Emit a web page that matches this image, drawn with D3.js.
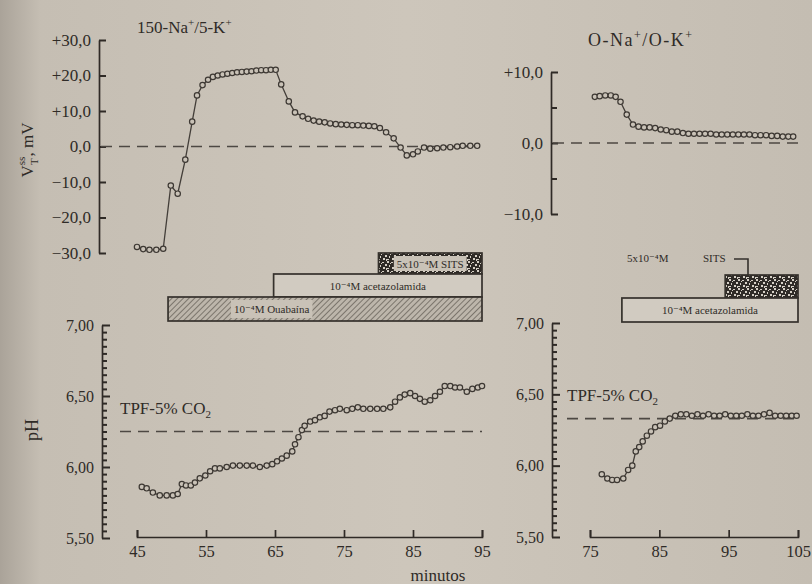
<!DOCTYPE html>
<html>
<head>
<meta charset="utf-8">
<script src="https://cdn.jsdelivr.net/npm/d3@7"></script>
<style>
  html, body { margin: 0; padding: 0; background: #cdc6bb; }
  svg { display: block; }
  text { font-family: "Liberation Serif", "DejaVu Serif", serif; fill: #2f2b27; }
</style>
</head>
<body>
<svg id="chart" width="812" height="584"></svg>
<script>
// ---- data ----
// top left: transepithelial voltage, 150-Na+/5-K+
var voltLeftTime = [45.0, 45.9, 46.8, 47.8, 48.8, 49.9, 50.9, 52.0, 53.0, 53.7, 54.5, 55.3, 56.0, 56.7,
  57.4, 58.1, 58.8, 59.5, 60.2, 60.9, 61.6, 62.3, 63.0, 63.7, 64.4, 65.1, 65.9, 67.0, 67.9, 69.0,
  69.8, 70.6, 71.4, 72.2, 73.0, 73.8, 74.6, 75.4, 76.2, 77.0, 77.8, 78.6, 79.4, 80.2, 81.1, 82.2,
  83.2, 84.1, 85.0, 85.7, 86.6, 87.5, 88.5, 89.4, 90.4, 91.4, 92.2, 93.3, 94.3];
var voltLeftValue = [-28.3, -28.9, -29.1, -29.1, -28.8, -11.0, -13.3, -3.7, 7.0, 14.4, 17.3, 18.8, 19.6, 20.0,
  20.3, 20.5, 20.7, 20.9, 21.0, 21.1, 21.2, 21.4, 21.5, 21.5, 21.6, 21.6, 17.5, 12.7, 9.6, 8.5,
  7.8, 7.3, 7.0, 6.8, 6.5, 6.3, 6.2, 6.1, 6.0, 6.0, 5.9, 5.8, 5.7, 5.2, 4.0, 2.3,
  -0.3, -2.5, -2.2, -1.4, -0.3, -0.6, -0.5, -0.3, -0.2, 0.0, 0.2, 0.2, 0.2];

// top right: transepithelial voltage, O-Na+/O-K+
var voltRightTime = [75.7, 76.4, 77.2, 78.0, 78.7, 79.4, 80.3, 81.2, 82.0, 82.8, 83.6, 84.4, 85.2, 86.0,
  86.8, 87.6, 88.4, 89.2, 90.0, 90.8, 91.6, 92.4, 93.2, 94.0, 94.8, 95.6, 96.4, 97.2, 98.0, 98.8,
  99.6, 100.4, 101.2, 102.0, 102.8, 103.6, 104.3];
var voltRightValue = [6.5, 6.6, 6.7, 6.7, 6.5, 5.8, 4.0, 2.6, 2.3, 2.2, 2.2, 2.1, 1.9, 1.8,
  1.6, 1.6, 1.4, 1.3, 1.3, 1.3, 1.3, 1.3, 1.2, 1.2, 1.2, 1.2, 1.2, 1.2, 1.2, 1.1,
  1.1, 1.1, 1.0, 1.0, 0.9, 0.9, 0.9];

// bottom left: pH
var phLeftTime = [45.7, 46.4, 47.3, 48.3, 49.3, 50.2, 50.9, 51.5, 52.1, 52.8, 53.4, 54.1, 54.9, 55.6,
  56.3, 57.0, 58.0, 58.9, 59.9, 60.9, 61.8, 62.8, 63.8, 64.6, 65.3, 66.0, 66.7, 67.5, 67.9, 68.4,
  68.9, 69.3, 70.1, 70.8, 71.5, 72.2, 72.9, 73.7, 74.4, 75.4, 76.2, 77.0, 77.8, 78.8, 79.8, 80.7,
  81.7, 82.4, 83.1, 83.8, 84.6, 85.3, 86.0, 86.7, 87.5, 88.2, 88.9, 89.6, 90.4, 91.1, 91.8, 92.8,
  93.6, 94.4, 95.0];
var phLeftValue = [5.86, 5.85, 5.82, 5.80, 5.80, 5.80, 5.81, 5.88, 5.87, 5.87, 5.89, 5.92, 5.94, 5.97,
  5.99, 5.99, 6.00, 6.01, 6.01, 6.01, 6.01, 6.00, 6.01, 6.02, 6.04, 6.06, 6.08, 6.11, 6.16, 6.21,
  6.26, 6.29, 6.32, 6.33, 6.35, 6.36, 6.39, 6.40, 6.41, 6.40, 6.41, 6.42, 6.41, 6.41, 6.41, 6.41,
  6.42, 6.46, 6.49, 6.51, 6.52, 6.50, 6.48, 6.46, 6.47, 6.50, 6.53, 6.57, 6.57, 6.56, 6.56, 6.53,
  6.55, 6.56, 6.57];

// bottom right: pH
var phRightTime = [76.7, 77.5, 78.2, 78.9, 79.8, 80.5, 81.1, 81.6, 82.1, 82.6, 83.2, 83.8, 84.4, 85.1,
  85.8, 86.5, 87.3, 88.1, 88.9, 89.7, 90.5, 91.3, 92.1, 92.9, 93.7, 94.5, 95.3, 96.1, 96.9, 97.7,
  98.5, 99.3, 100.1, 100.9, 101.7, 102.5, 103.3, 104.1, 104.8];
var phRightValue = [5.94, 5.91, 5.90, 5.90, 5.91, 5.97, 6.00, 6.10, 6.13, 6.17, 6.21, 6.24, 6.27, 6.28,
  6.31, 6.33, 6.35, 6.36, 6.36, 6.35, 6.36, 6.35, 6.36, 6.35, 6.35, 6.36, 6.35, 6.35, 6.35, 6.36,
  6.35, 6.35, 6.36, 6.37, 6.35, 6.35, 6.35, 6.35, 6.35];

var xTicksLeft = [45, 55, 65, 75, 85, 95];
var xTicksRight = [75, 85, 95, 105];
var voltTicksLeft = [-30, -20, -10, 0, 10, 20, 30];
var voltTicksRight = [-10, -5, 0, 5, 10];
var phTicks = d3.range(5.5, 7.0001, 0.05);

var refVolt = 0;          // dashed zero line
var refPhLeft = 6.25;     // TPF-5% CO2 level
var refPhRight = 6.33;

// drug application bars (start, end in minutes)
var barsLeft = [
  { kind: "sits", label: "5x10\u207B\u2074M SITS", start: 80, end: 95 },
  { kind: "plain", label: "10\u207B\u2074M acetazolamida", start: 64.8, end: 95 },
  { kind: "hatch", label: "10\u207B\u2074M Ouabaína", start: 49.5, end: 95 }
];
var barsRight = [
  { kind: "sits", label: "", start: 94.5, end: 105 },
  { kind: "plain", label: "10\u207B\u2074M acetazolamida", start: 79.6, end: 105 }
];

// ---- drawing ----
var ink = "#2f2a26";
var svg = d3.select("#chart");
var defs = svg.append("defs");

var bg = defs.append("linearGradient").attr("id", "bg");
bg.append("stop").attr("offset", "0").attr("stop-color", "#aaa399");
bg.append("stop").attr("offset", "0.05").attr("stop-color", "#c5beb3");
bg.append("stop").attr("offset", "0.5").attr("stop-color", "#cdc6bb");
bg.append("stop").attr("offset", "1").attr("stop-color", "#c4bdb2");
svg.append("rect").attr("width", 812).attr("height", 584).attr("fill", "url(#bg)");

// hatch for ouabain
var hatch = defs.append("pattern").attr("id", "hatch").attr("patternUnits", "userSpaceOnUse")
  .attr("width", 4).attr("height", 4).attr("patternTransform", "rotate(45)");
hatch.append("rect").attr("width", 4).attr("height", 4).attr("fill", "#bdb6ab");
hatch.append("line").attr("x1", 0).attr("y1", 0).attr("x2", 0).attr("y2", 4)
  .attr("stroke", "#57514a").attr("stroke-width", 1.3);

// speckle for SITS
var speck = defs.append("pattern").attr("id", "speck").attr("patternUnits", "userSpaceOnUse")
  .attr("width", 9).attr("height", 9);
speck.append("rect").attr("width", 9).attr("height", 9).attr("fill", "#2f2b27");
[[0, 0, 2, 2], [4, 1, 2, 1], [7, 3, 2, 2], [2, 4, 1, 2], [5, 6, 2, 2], [0, 7, 2, 1], [3, 2, 1, 1], [8, 7, 1, 2]]
  .forEach(function (r) {
    speck.append("rect").attr("x", r[0]).attr("y", r[1]).attr("width", r[2]).attr("height", r[3])
      .attr("fill", "#d6d0c6");
  });

var xLeft = d3.scaleLinear().domain([45, 95]).range([137, 482]);
var xRight = d3.scaleLinear().domain([75, 105]).range([590, 798]);
var yVoltLeft = d3.scaleLinear().domain([-30, 30]).range([253, 40]);
var yVoltRight = d3.scaleLinear().domain([-10, 10]).range([214, 72]);
var yPhLeft = d3.scaleLinear().domain([5.5, 7]).range([538, 325]);
var yPhRight = d3.scaleLinear().domain([5.5, 7]).range([537, 323]);

function voltFormat(v) {
  if (v === 0) return "0,0";
  var s = Math.abs(v).toFixed(1).replace(".", ",");
  return (v > 0 ? "+" : "\u2212") + s;
}
function phFormat(v) {
  var k = Math.round(v * 100);
  return k % 50 === 0 ? (k / 100).toFixed(2).replace(".", ",") : "";
}

function styleAxis(g) {
  g.selectAll("path, line").attr("stroke", ink).attr("stroke-width", 1.7);
  g.selectAll("text").attr("fill", "#2f2b27").style("font-family", "\"Liberation Serif\", serif");
}

// y axis: spine and labels from d3, tick marks pointing inward (right)
function yAxis(scale, xPos, ticks, fmt, fontSize, tickLen) {
  var g = svg.append("g").attr("transform", "translate(" + xPos + ",0)")
    .call(d3.axisLeft(scale).tickValues(ticks).tickFormat(fmt).tickSize(-7).tickSizeOuter(0).tickPadding(8));
  styleAxis(g);
  g.selectAll(".tick line").attr("x2", tickLen).attr("stroke-width", 2);
  g.selectAll("text").style("font-size", fontSize + "px");
  return g;
}

function xAxis(scale, yPos, ticks) {
  var g = svg.append("g").attr("transform", "translate(0," + yPos + ")")
    .call(d3.axisBottom(scale).tickValues(ticks).tickFormat(d3.format("d")).tickSize(-7).tickSizeOuter(-7).tickPadding(8));
  styleAxis(g);
  g.selectAll("text").style("font-size", "16.5px");
}

function series(x, y, times, values) {
  var pts = times.map(function (t, i) { return { t: t, v: values[i] }; });
  var line = d3.line().x(function (d) { return x(d.t); }).y(function (d) { return y(d.v); });
  svg.append("path").attr("d", line(pts)).attr("fill", "none")
    .attr("stroke", "#433e39").attr("stroke-width", 1.3);
  svg.append("g").selectAll("circle").data(pts).enter().append("circle")
    .attr("cx", function (d) { return x(d.t); })
    .attr("cy", function (d) { return y(d.v); })
    .attr("r", 2.7)
    .attr("fill", "#c9c2b7")
    .attr("stroke", "#3d3833")
    .attr("stroke-width", 1.2);
}

function dashed(x1, x2, yPos) {
  svg.append("line").attr("x1", x1).attr("x2", x2).attr("y1", yPos).attr("y2", yPos)
    .attr("stroke", "#4d4843").attr("stroke-width", 1.7).attr("stroke-dasharray", "11,7");
}

// top left panel
yAxis(yVoltLeft, 99, voltTicksLeft, voltFormat, 17, function () { return 7; });
dashed(101, xLeft.range()[1] - 2, yVoltLeft(refVolt));
series(xLeft, yVoltLeft, voltLeftTime, voltLeftValue);

// top right panel
yAxis(yVoltRight, 551, voltTicksRight, function (v) { return v % 10 === 0 ? voltFormat(v) : ""; }, 17,
  function (d) { return d % 10 === 0 ? 7 : 6; });
dashed(553, xRight.range()[1], yVoltRight(refVolt));
series(xRight, yVoltRight, voltRightTime, voltRightValue);

// bottom panels
[[yPhLeft, 102, xLeft, refPhLeft, 120], [yPhRight, 552, xRight, refPhRight, 567]].forEach(function (p) {
  yAxis(p[0], p[1], phTicks, phFormat, 16, function (d) {
    return Math.round(d * 100) % 50 === 0 ? 8 : 5;
  });
  dashed(p[4], p[2].range()[1], p[0](p[3]));
  svg.append("text").attr("x", p[4]).attr("y", p[0](p[3]) - 18)
    .style("font-size", "17px")
    .html("TPF-5% CO<tspan dy='4' font-size='11px'>2</tspan>");
});
series(xLeft, yPhLeft, phLeftTime, phLeftValue);
series(xRight, yPhRight, phRightTime, phRightValue);
xAxis(xLeft, 537, xTicksLeft);
xAxis(xRight, 537, xTicksRight);

// treatment bars
function drawBars(x, bars, rowTop, rowHeights) {
  var top = rowTop;
  bars.forEach(function (b, i) {
    var h = rowHeights[i];
    var x0 = x(b.start), x1 = x(b.end);
    var fill = b.kind === "sits" ? "url(#speck)" : b.kind === "hatch" ? "url(#hatch)" : "#d1cbc1";
    svg.append("rect").attr("x", x0).attr("y", top).attr("width", x1 - x0).attr("height", h)
      .attr("fill", fill).attr("stroke", "#35312c").attr("stroke-width", 1.7);
    if (b.label) {
      var cx = b.kind === "hatch" ? x0 + (x1 - x0) * 0.33 : (x0 + x1) / 2;
      var t = svg.append("text").attr("x", cx).attr("y", top + h / 2 + 4)
        .attr("text-anchor", "middle").style("font-size", "11px").text(b.label);
      if (b.kind !== "plain") {
        var bb = t.node().getBBox();
        svg.insert("rect", function () { return t.node(); })
          .attr("x", bb.x - 3).attr("y", top + 3).attr("width", bb.width + 6).attr("height", h - 6)
          .attr("fill", "#c9c2b7");
      }
    }
    top += h;
  });
}
drawBars(xLeft, barsLeft, 253, [21, 23, 24]);
drawBars(xRight, barsRight, 275, [23, 24]);

// label + leader for right-hand SITS bar
svg.append("text").attr("x", 627).attr("y", 262).style("font-size", "11px").text("5x10\u207B\u2074M");
svg.append("text").attr("x", 703).attr("y", 262).style("font-size", "11px").text("SITS");
svg.append("path").attr("d", "M734,259 H748 V275").attr("fill", "none")
  .attr("stroke", "#35312c").attr("stroke-width", 1.6);

// titles and axis labels
svg.append("text").attr("x", 137).attr("y", 33).style("font-size", "17px")
  .html("150-Na<tspan dy='-7' font-size='11px'>+</tspan><tspan dy='7'>/5-K</tspan><tspan dy='-7' font-size='11px'>+</tspan>");
svg.append("text").attr("x", 588).attr("y", 46).style("font-size", "18px").style("letter-spacing", "1.5px")
  .html("O-Na<tspan dy='-7' font-size='12px'>+</tspan><tspan dy='7'>/O-K</tspan><tspan dy='-7' font-size='12px'>+</tspan>");

svg.append("text").attr("transform", "translate(33,150) rotate(-90)").attr("text-anchor", "middle")
  .style("font-size", "17px")
  .html("V<tspan dy='5' font-size='11px'>T</tspan><tspan dy='-13' dx='-6' font-size='11px'>ss</tspan><tspan dy='8'>, mV</tspan>");
svg.append("text").attr("transform", "translate(38,430) rotate(-90)").attr("text-anchor", "middle")
  .style("font-size", "18px").text("pH");
svg.append("text").attr("x", 438).attr("y", 581).attr("text-anchor", "middle")
  .style("font-size", "17px").text("minutos");
</script>
</body>
</html>
